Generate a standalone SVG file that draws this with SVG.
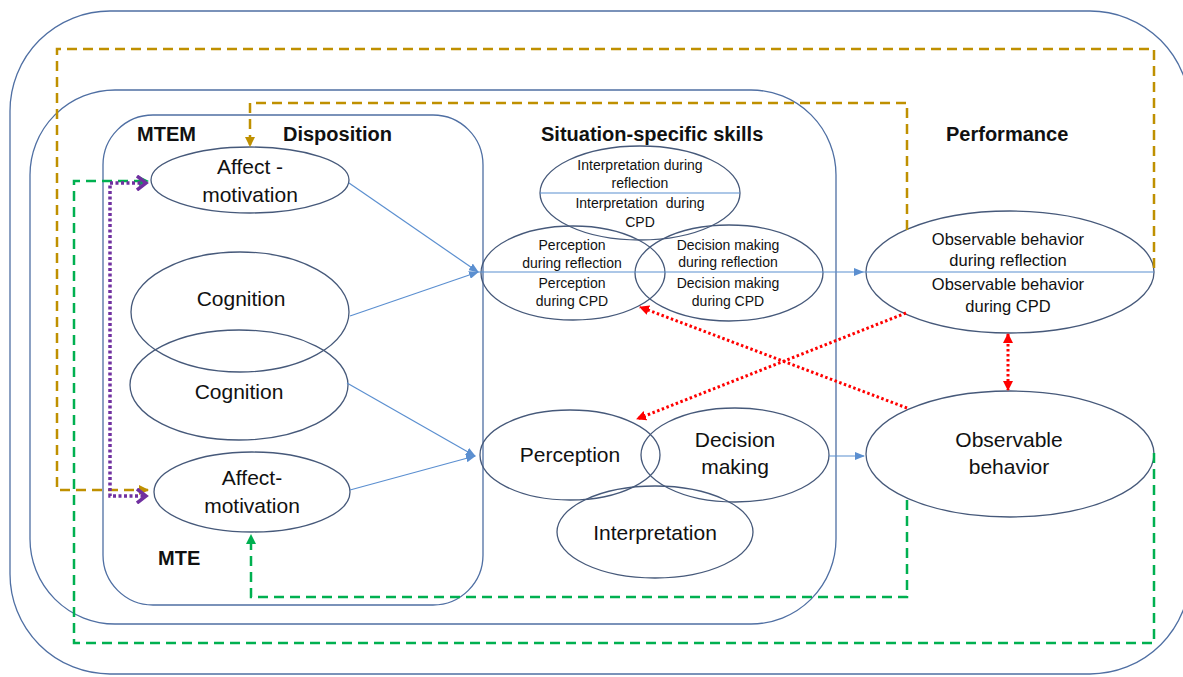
<svg xmlns="http://www.w3.org/2000/svg" width="1183" height="677" viewBox="0 0 1183 677">
<style>
.frame{fill:none;stroke:#4F6FA3;stroke-width:1.3}
.el{fill:none;stroke:#46597A;stroke-width:1.3}
.t{font-family:"Liberation Sans",Arial,sans-serif;fill:#111;text-anchor:middle}
.big{font-size:21px}
.mid{font-size:16.5px}
.sm{font-size:14px}
.hd{font-family:"Liberation Sans",Arial,sans-serif;font-weight:bold;font-size:20px;fill:#111}
.blue{fill:none;stroke:#5B8FD0;stroke-width:1.2}
.gold{fill:none;stroke:#BF9000;stroke-width:2.5;stroke-dasharray:10 6}
.green{fill:none;stroke:#00B050;stroke-width:2.5;stroke-dasharray:10 6}
.purple{fill:none;stroke:#7030A0;stroke-width:3.5;stroke-dasharray:3 2.5}
.red{fill:none;stroke:#FF0000;stroke-width:3;stroke-dasharray:2.5 2.5}
</style>
<defs>
<marker id="mBlue" markerUnits="userSpaceOnUse" markerWidth="10" markerHeight="8" refX="9" refY="4" orient="auto"><path d="M0,0 L10,4 L0,8 Z" fill="#5B8FD0"/></marker>
<marker id="mGold" markerUnits="userSpaceOnUse" markerWidth="10" markerHeight="10" refX="9" refY="5" orient="auto"><path d="M0,0 L10,5 L0,10 Z" fill="#BF9000"/></marker>
<marker id="mGreen" markerUnits="userSpaceOnUse" markerWidth="10" markerHeight="10" refX="9" refY="5" orient="auto"><path d="M0,0 L10,5 L0,10 Z" fill="#00B050"/></marker>
<marker id="mPurple" markerUnits="userSpaceOnUse" markerWidth="14" markerHeight="16" refX="10" refY="8" orient="auto-start-reverse"><path d="M1,1 L10,8 L1,15" fill="none" stroke="#7030A0" stroke-width="3.5"/></marker>
<marker id="mRed" markerUnits="userSpaceOnUse" markerWidth="10" markerHeight="10" refX="9" refY="5" orient="auto-start-reverse"><path d="M0,0 L10,5 L0,10 Z" fill="#FF0000"/></marker>
</defs>

<g id="frames">
<rect class="frame" x="10" y="11" width="1180" height="663" rx="100" ry="100"/>
<rect class="frame" x="30" y="90" width="806" height="534" rx="85" ry="85"/>
<rect class="frame" x="103" y="115" width="380" height="490" rx="50" ry="50"/>
</g>

<g id="headings">
<text class="hd" x="137" y="141">MTEM</text>
<text class="hd" x="283" y="141">Disposition</text>
<text class="hd" x="541" y="141">Situation-specific skills</text>
<text class="hd" x="946" y="141">Performance</text>
<text class="hd" x="158" y="565">MTE</text>
</g>

<g id="affect-motivation-mtem">
<ellipse class="el" cx="250" cy="180" rx="99" ry="33"/>
<text class="t big" x="250" y="174">Affect -</text>
<text class="t big" x="250" y="202">motivation</text>
</g>
<g id="cognition-mtem">
<ellipse class="el" cx="240" cy="312" rx="109" ry="60"/>
<text class="t big" x="241" y="306">Cognition</text>
</g>
<g id="cognition-mte">
<ellipse class="el" cx="239" cy="385" rx="109" ry="55"/>
<text class="t big" x="239" y="399">Cognition</text>
</g>
<g id="affect-motivation-mte">
<ellipse class="el" cx="252" cy="492" rx="98" ry="40"/>
<text class="t big" x="252" y="485">Affect-</text>
<text class="t big" x="252" y="513">motivation</text>
</g>

<g id="interpretation-cpd">
<ellipse class="el" cx="640" cy="193" rx="100" ry="47"/>
<line x1="540" y1="193" x2="740" y2="193" stroke="#5B8FD0" stroke-width="1.2"/>
<text class="t sm" x="640" y="170">Interpretation during</text>
<text class="t sm" x="640" y="188">reflection</text>
<text class="t sm" x="640" y="208" xml:space="preserve">Interpretation  during</text>
<text class="t sm" x="640" y="227">CPD</text>
</g>
<g id="perception-cpd">
<ellipse class="el" cx="573" cy="273" rx="92" ry="47"/>
<text class="t sm" x="572" y="250">Perception</text>
<text class="t sm" x="572" y="268">during reflection</text>
<text class="t sm" x="572" y="288">Perception</text>
<text class="t sm" x="572" y="306">during CPD</text>
</g>
<g id="decision-cpd">
<ellipse class="el" cx="729" cy="273" rx="94" ry="48"/>
<text class="t sm" x="728" y="250">Decision making</text>
<text class="t sm" x="728" y="267">during reflection</text>
<text class="t sm" x="728" y="288">Decision making</text>
<text class="t sm" x="728" y="306">during CPD</text>
</g>

<g id="perception">
<ellipse class="el" cx="570" cy="455" rx="90" ry="45"/>
<text class="t big" x="570" y="462">Perception</text>
</g>
<g id="decision-making">
<ellipse class="el" cx="735" cy="455" rx="94" ry="47"/>
<text class="t big" x="735" y="447">Decision</text>
<text class="t big" x="735" y="474">making</text>
</g>
<g id="interpretation">
<ellipse class="el" cx="655" cy="532" rx="98" ry="46"/>
<text class="t big" x="655" y="540">Interpretation</text>
</g>

<g id="observable-behavior-cpd">
<ellipse class="el" cx="1010" cy="272" rx="144" ry="61"/>
<text class="t mid" x="1008" y="245">Observable behavior</text>
<text class="t mid" x="1008" y="266">during reflection</text>
<text class="t mid" x="1008" y="290">Observable behavior</text>
<text class="t mid" x="1008" y="312">during CPD</text>
</g>
<g id="observable-behavior">
<ellipse class="el" cx="1010" cy="454" rx="144" ry="63"/>
<text class="t big" x="1009" y="447">Observable</text>
<text class="t big" x="1009" y="474">behavior</text>
</g>

<g id="connectors">
<line class="blue" x1="349" y1="183" x2="478" y2="272" marker-end="url(#mBlue)"/>
<line class="blue" x1="350" y1="316" x2="478" y2="272" marker-end="url(#mBlue)"/>
<line class="blue" x1="347" y1="383" x2="475" y2="456" marker-end="url(#mBlue)"/>
<line class="blue" x1="350" y1="490" x2="475" y2="456" marker-end="url(#mBlue)"/>
<line class="blue" x1="478" y1="272" x2="863" y2="272" marker-end="url(#mBlue)"/>
<line class="blue" x1="863" y1="272" x2="1154" y2="272"/>
<line class="blue" x1="829" y1="456" x2="864" y2="456" marker-end="url(#mBlue)"/>

<path class="gold" d="M1154,268 L1154,49 L57,49 L57,490 L148,490" marker-end="url(#mGold)"/>
<path class="gold" d="M907,230 L907,103 L250,103 L250,146" marker-end="url(#mGold)"/>
<path class="green" d="M1154,453 L1154,643 L74,643 L74,181 L148,181" marker-end="url(#mGreen)"/>
<path class="green" d="M907,500 L907,597 L251,597 L251,535" marker-end="url(#mGreen)"/>
<path class="purple" d="M146,183 L110,183 L110,496 L146,496" marker-start="url(#mPurple)" marker-end="url(#mPurple)"/>

<line class="red" x1="907" y1="408" x2="640" y2="307" marker-end="url(#mRed)"/>
<line class="red" x1="906" y1="313" x2="637" y2="419" marker-end="url(#mRed)"/>
<line class="red" x1="1008" y1="334" x2="1008" y2="390" marker-start="url(#mRed)" marker-end="url(#mRed)"/>
</g>
</svg>
